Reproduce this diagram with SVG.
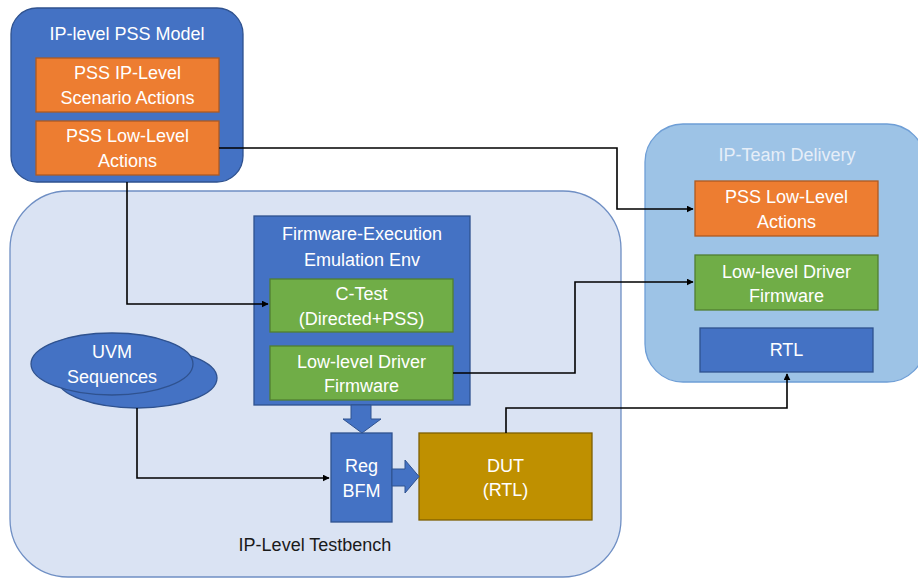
<svg xmlns="http://www.w3.org/2000/svg" width="918" height="578" viewBox="0 0 918 578">
<defs>
<style>
text{font-family:"Liberation Sans",Arial,sans-serif;font-size:18px;text-anchor:middle;fill:#ffffff}
.blue{fill:#4472C4;stroke:#2F528F;stroke-width:1.3}
.orange{fill:#ED7D31;stroke:#AE5A21;stroke-width:1.3}
.green{fill:#70AD47;stroke:#507E32;stroke-width:1.3}
.gold{fill:#BF9000;stroke:#7F6000;stroke-width:1.3}
.conn{fill:none;stroke:#000;stroke-width:1.6}
.dark{fill:#1a1a1a}
</style>
<marker id="ah" viewBox="0 0 10 10" refX="9" refY="5" markerWidth="7" markerHeight="7" markerUnits="userSpaceOnUse" orient="auto">
<path d="M0,0 L10,5 L0,10 z" fill="#000"/>
</marker>
</defs>
<rect width="918" height="578" fill="#ffffff"/>

<g id="testbench">
<rect x="10" y="191" width="611" height="386" rx="58" fill="#DAE3F3" stroke="#6F8FC4" stroke-width="1.3"/>
<text x="315" y="551" class="dark">IP-Level Testbench</text>
</g>

<g id="ip-pss-model">
<rect x="11" y="8" width="232" height="174" rx="26" class="blue"/>
<text x="127" y="40">IP-level PSS Model</text>
</g>
<g id="pss-scenario">
<rect x="36" y="58" width="183" height="54" class="orange"/>
<text x="127.5" y="79">PSS IP-Level</text>
<text x="127.5" y="104">Scenario Actions</text>
</g>
<g id="pss-lowlevel-left">
<rect x="36" y="121" width="183" height="54" class="orange"/>
<text x="127.5" y="142">PSS Low-Level</text>
<text x="127.5" y="167">Actions</text>
</g>

<g id="ip-team-delivery">
<rect x="645" y="124" width="280" height="258" rx="38" fill="#9DC3E6" stroke="#6E9ED6" stroke-width="1.3"/>
<text x="787" y="161" fill="#E6EEF8" style="fill:#E6EEF8">IP-Team Delivery</text>
</g>
<g id="pss-lowlevel-right">
<rect x="695" y="181" width="183" height="55" class="orange"/>
<text x="786.5" y="203">PSS Low-Level</text>
<text x="786.5" y="228">Actions</text>
</g>
<g id="driver-fw-right">
<rect x="695" y="255" width="183" height="55" class="green"/>
<text x="786.5" y="278">Low-level Driver</text>
<text x="786.5" y="302">Firmware</text>
</g>
<g id="rtl">
<rect x="700" y="328" width="173" height="44" class="blue"/>
<text x="786.5" y="356">RTL</text>
</g>

<g id="fw-emulation">
<rect x="254" y="216" width="216" height="189" class="blue"/>
<text x="362" y="240">Firmware-Execution</text>
<text x="362" y="266">Emulation Env</text>
</g>
<g id="c-test">
<rect x="270" y="279" width="183" height="53" class="green"/>
<text x="361.5" y="300">C-Test</text>
<text x="361.5" y="325">(Directed+PSS)</text>
</g>
<g id="driver-fw-left">
<rect x="270" y="346" width="183" height="54" class="green"/>
<text x="361.5" y="368">Low-level Driver</text>
<text x="361.5" y="392">Firmware</text>
</g>

<g id="uvm-sequences">
<ellipse cx="137" cy="378" rx="80" ry="30" class="blue"/>
<ellipse cx="112" cy="364" rx="81" ry="31" class="blue"/>
<text x="112" y="358">UVM</text>
<text x="112" y="383">Sequences</text>
</g>

<g id="reg-bfm">
<rect x="331" y="433" width="61" height="89" class="blue"/>
<text x="361.5" y="472">Reg</text>
<text x="361.5" y="497">BFM</text>
</g>
<g id="dut">
<rect x="419" y="433" width="173" height="87" class="gold"/>
<text x="505.5" y="472">DUT</text>
<text x="505.5" y="496">(RTL)</text>
</g>

<g id="connectors">
<path class="conn" d="M127,182 V304 H268" marker-end="url(#ah)"/>
<path class="conn" d="M219,148 H617 V209 H693" marker-end="url(#ah)"/>
<path class="conn" d="M453,373 H575 V282 H693" marker-end="url(#ah)"/>
<path class="conn" d="M137,408 V478 H329" marker-end="url(#ah)"/>
<path class="conn" d="M506,433 V408 H787 V374" marker-end="url(#ah)"/>
<path d="M351,405 V419 H343 L362,433 L381,419 H371 V405 Z" fill="#4472C4" stroke="#2F528F" stroke-width="1"/>
<path d="M392,469 H405 V460 L419,476.5 L405,493 V486 H392 Z" fill="#4472C4" stroke="#2F528F" stroke-width="1"/>
</g>
</svg>
